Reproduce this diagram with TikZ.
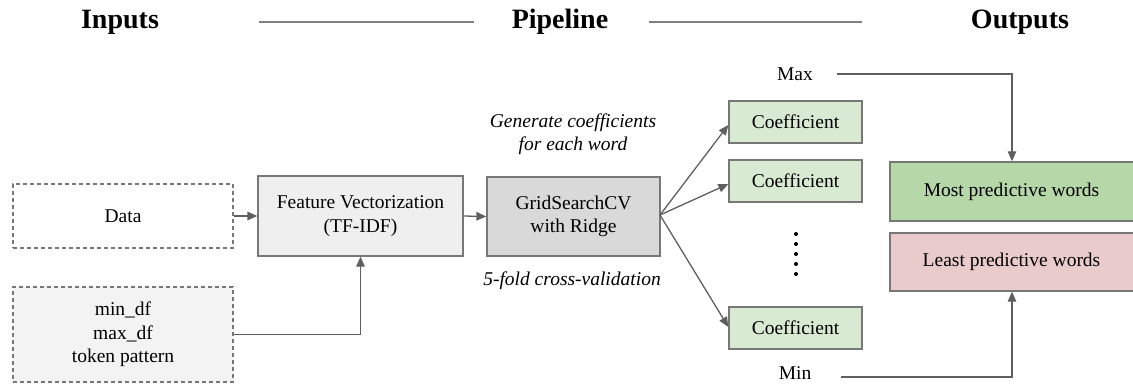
\documentclass[tikz,border=0pt]{standalone}
\usepackage{fontspec}
\setmainfont{Liberation Serif}
\usetikzlibrary{arrows.meta,calc}
\definecolor{bordergray}{HTML}{777777}
\definecolor{arrowgray}{HTML}{5F5F5F}
\definecolor{fillfeat}{HTML}{EFEFEF}
\definecolor{fillgrid}{HTML}{D9D9D9}
\definecolor{fillparam}{HTML}{F3F3F3}
\definecolor{fillcoef}{HTML}{D9EAD3}
\definecolor{fillmost}{HTML}{B6D7A8}
\definecolor{fillleast}{HTML}{EACBCB}
\tikzset{
  x=1pt, y=-1pt,
  body/.style={font=\fontsize{19.5}{23.5}\selectfont},
  title/.style={font=\fontsize{28}{32}\selectfont\bfseries},
  note/.style={font=\fontsize{19.5}{23.5}\selectfont\itshape, align=center},
  boxbase/.style={draw=bordergray, line width=1.3pt, inner sep=0pt, body, align=center},
  dashbox/.style={boxbase, dashed, dash pattern=on 4pt off 3pt},
  conn/.style={draw=arrowgray, line width=1.3pt, -{Triangle[length=10pt,width=8.5pt]}},
  rule/.style={draw=gray, line width=1.3pt},
}
\newcommand{\boxat}[7]{% name, x1,y1,x2,y2, style, text
  \node[#6, minimum width={(#4-#2)*1pt}, minimum height={(#5-#3)*1pt}] (#1) at ({(#2+#4)/2},{(#3+#5)/2}) {#7};}
\begin{document}
\begin{tikzpicture}
\useasboundingbox (0,0) rectangle (1133,385);
% titles
\node[title] (tin) at (120,22) {Inputs};
\node[title] (tpipe) at (560,22) {Pipeline};
\node[title] (tout) at (1020,22) {Outputs};
\coordinate (l1a) at (259,22); \coordinate (l1b) at (474,22);
\coordinate (l2a) at (649,22); \coordinate (l2b) at (862,22);
\draw[rule] (l1a) -- (l1b);
\draw[rule] (l2a) -- (l2b);
% boxes
\boxat{data}{13}{184}{233}{248}{dashbox, fill=white}{Data}
\boxat{param}{13}{287}{233}{382}{dashbox, fill=fillparam}{min\_df\\max\_df\\token pattern}
\boxat{feat}{258}{176}{463}{256}{boxbase, fill=fillfeat}{Feature Vectorization\\(TF-IDF)}
\boxat{grid}{487}{177}{660}{256}{boxbase, fill=fillgrid}{GridSearchCV\\with Ridge}
\boxat{c1}{729}{101}{862}{143}{boxbase, fill=fillcoef}{Coefficient}
\boxat{c2}{729}{160}{862}{202}{boxbase, fill=fillcoef}{Coefficient}
\boxat{c3}{729}{307}{862}{349}{boxbase, fill=fillcoef}{Coefficient}
\boxat{most}{890}{162}{1140}{221}{boxbase, fill=fillmost}{\hspace*{-7pt}Most predictive words}
\boxat{least}{890}{233}{1140}{291}{boxbase, fill=fillleast}{\hspace*{-7pt}Least predictive words}
% notes
\node[note] (gen) at (573,134) {Generate coefficients\\for each word};
\node[note] (fold) at (572,281) {5-fold cross-validation};
\node[body] (max) at (795,74) {Max};
\node[body] (min) at (795,373) {Min};
% dots
\foreach \i in {0,...,4} {\fill[black] (796,{234+\i*10}) circle (2pt);}
% connectors
\draw[conn] (data.east) -- (feat.west |- data.east);
\draw[conn] (param.east) -| (feat.south);
\draw[conn] (feat.east) -- (grid.west);
\coordinate (gout) at (660,215);
\draw[conn] (gout) -- ($(c1.west)+(0,3)$);
\draw[conn] (gout) -- ($(c2.west)+(0,3)$);
\draw[conn] (gout) -- ($(c3.west)+(0,-1)$);
\coordinate (maxs) at (837,74);
\coordinate (mins) at (841,377);
\draw[conn] (maxs) -| (most.north -| 1012,0);
\draw[conn] (mins) -| (least.south -| 1012,0);
\end{tikzpicture}
\end{document}
